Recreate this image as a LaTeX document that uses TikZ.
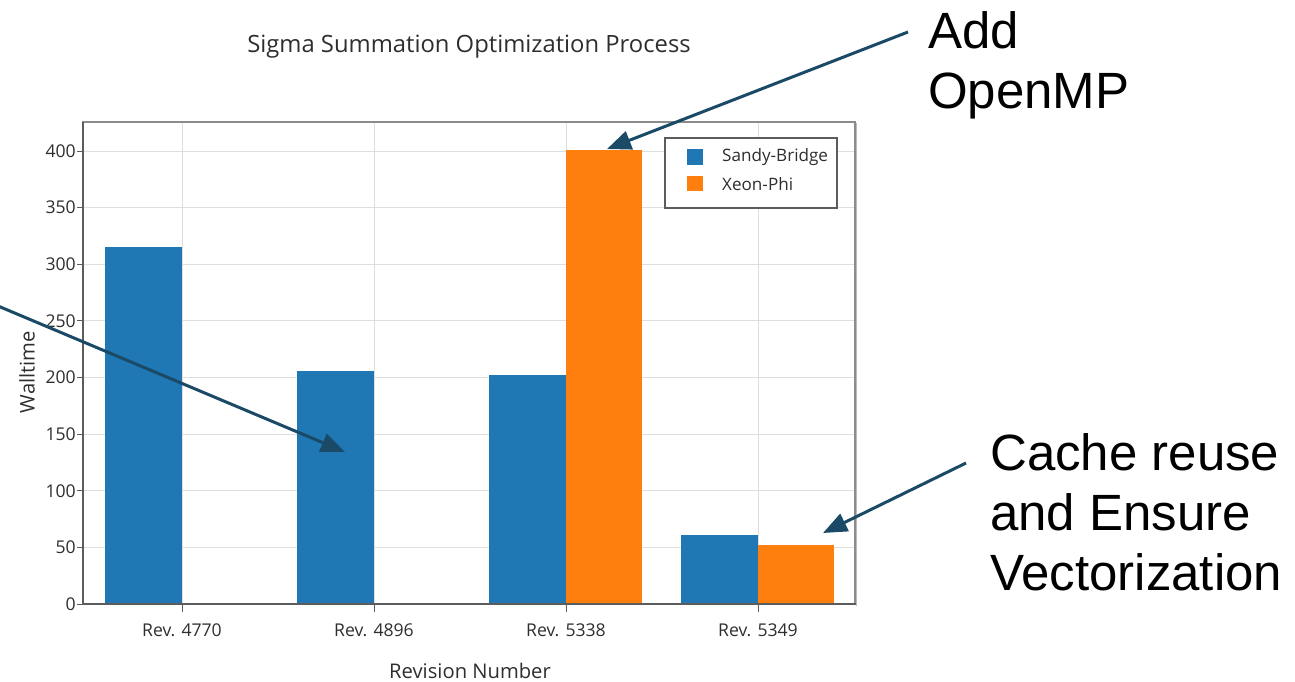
\documentclass[tikz,border=0pt]{standalone}
\usepackage{fontspec}
\setmainfont{Liberation Sans}
\newfontfamily\chartfont{Open Sans}
\usetikzlibrary{arrows.meta}

\definecolor{sbblue}{HTML}{1F77B4}
\definecolor{xporange}{HTML}{FF7F0E}
\definecolor{callout}{HTML}{1B4A66}
\definecolor{gridgray}{HTML}{DEDEDE}
\definecolor{framegray}{HTML}{8C8C8C}
\definecolor{axisgray}{HTML}{5C5C5C}
\definecolor{labelgray}{HTML}{2E2E2E}

\begin{document}
\begin{tikzpicture}[x=1pt,y=-1pt,
  ticklabel/.style={font=\chartfont\fontsize{17.6}{19}\selectfont, text=labelgray, inner sep=0pt},
  axistitle/.style={font=\chartfont\fontsize{20.2}{22}\selectfont, text=labelgray, inner sep=0pt},
  charttitle/.style={font=\chartfont\fontsize{23.8}{26}\selectfont, text=labelgray, inner sep=0pt},
  legendtext/.style={font=\chartfont\fontsize{17.1}{18}\selectfont, text=labelgray, inner sep=0pt, anchor=west},
  note/.style={font=\fontsize{51}{60}\selectfont, align=left, anchor=north west, inner sep=0pt},
  pointer/.style={draw=callout, line width=3pt, -{Triangle[length=24pt,width=19pt]}},
  gridline/.style={draw=gridgray, line width=1pt},
  sbbar/.style={fill=sbblue},
  xpbar/.style={fill=xporange}]
\useasboundingbox (0,0) rectangle (1295,681);

% value axis: 0 at y=604, 1.1325 px per unit
\def\vy#1{604-1.1325*#1}

% grid
\foreach \v in {50,100,...,400}
  \draw[gridline] (83,{\vy{\v}}) -- (855,{\vy{\v}});
\foreach \x in {182,374,566,758}
  \draw[gridline] (\x,122) -- (\x,604);

% bars
\fill[sbbar] (105,604) rectangle (182,{\vy{315}});
\fill[sbbar] (297,604) rectangle (374,{\vy{206}});
\fill[sbbar] (489,604) rectangle (566,{\vy{202}});
\fill[xpbar] (566,604) rectangle (642,{\vy{401}});
\fill[sbbar] (681,604) rectangle (758,{\vy{61}});
\fill[xpbar] (758,604) rectangle (834,{\vy{52}});

% frame and axes
\draw[framegray, line width=1.3pt] (83,122) rectangle (855,604);
\draw[framegray!60, line width=1pt] (856.5,123) -- (856.5,605.5);
\draw[axisgray, line width=2.2pt] (82,604) -- (856,604);
\draw[axisgray, line width=1.3pt] (83,122) -- (83,605);

% y ticks and labels
\foreach \v in {0,50,...,400} {
  \draw[axisgray, line width=1pt] (77,{\vy{\v}}) -- (83,{\vy{\v}});
  \node[ticklabel, anchor=east] (ylab\v) at (76,{\vy{\v}}) {\v};
}

% category ticks and labels
\foreach \x/\r in {182/4770,374/4896,566/5338,758/5349} {
  \draw[axisgray, line width=1pt] (\x,605) -- (\x,612);
  \node[ticklabel] (xlab\r) at (\x,630) {Rev. \r};
}

% titles
\node[charttitle] (title) at (469,47) {Sigma Summation Optimization Process};
\node[axistitle] (xtitle) at (470,671) {Revision Number};
\node[axistitle, rotate=90] (ytitle) at (27,372) {Walltime};

% legend
\draw[draw=axisgray, fill=white, line width=1.2pt] (665,138) rectangle (837,208);
\fill[sbbar] (687,149) rectangle (703,165);
\fill[xpbar] (687,176) rectangle (703,191);
\node[legendtext] (legsb) at (722,157) {Sandy-Bridge};
\node[legendtext] (legxp) at (722,184) {Xeon-Phi};

% callouts
\node[note] (openmp) at (928,11) {Add\\OpenMP};
\node[note] (cache) at (990,433) {Cache reuse\\and Ensure\\Vectorization};

\coordinate (openmpstart) at (908,32);
\coordinate (openmptip) at (607,149);
\coordinate (leftstart) at (-2,306);
\coordinate (lefttip) at (345,452);
\coordinate (cachestart) at (966,463);
\coordinate (cachetip) at (823,533);

\draw[pointer] (openmpstart) -- (openmptip);
\draw[pointer] (leftstart) -- (lefttip);
\draw[pointer] (cachestart) -- (cachetip);
\end{tikzpicture}
\end{document}
